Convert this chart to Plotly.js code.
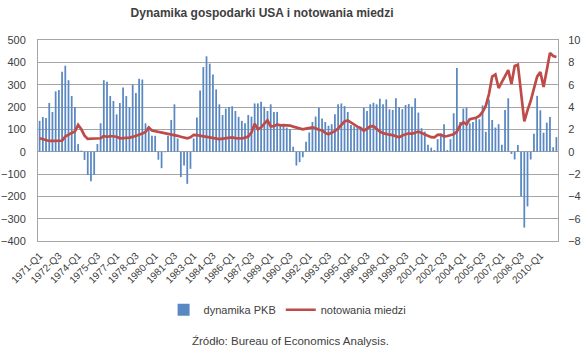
<!DOCTYPE html>
<html>
<head>
<meta charset="utf-8">
<script src="https://cdn.plot.ly/plotly-3.0.1.min.js"></script>
<style>html,body{margin:0;padding:0;background:#fff;}#chart{width:585px;height:353px;}</style>
</head>
<body>
<div id="chart"></div>
<script>
// Quarters 1971-Q1 .. 2011-Q2
var firstYear = 1971, lastYear = 2011, lastQuarter = 2;
var quarters = [];
for (var y = firstYear; y <= lastYear; y++) {
  for (var q = 1; q <= 4; q++) {
    if (y === lastYear && q > lastQuarter) break;
    quarters.push(y + '-Q' + q);
  }
}
// Tick labels shown on the category axis (every 6th quarter)
var tickLabels = quarters.filter(function (c, i) { return i % 6 === 0; });

// dynamika PKB (US real GDP growth, %) - right axis
var gdpGrowth = [
  2.76, 3.10, 3.02, 4.36, 3.56, 5.40, 5.52, 7.16, 7.70, 6.40,
  4.98, 4.00, 0.68, 0.10, -0.74, -2.08, -2.66, -2.08, 0.68, 2.54,
  6.40, 6.26, 4.98, 4.54, 3.34, 4.36, 5.74, 4.98, 4.00, 6.00,
  5.26, 6.52, 6.46, 2.54, 2.30, 1.42, 1.42, -0.72, -1.48, -0.05,
  1.42, 2.84, 4.24, 1.18, -2.28, -1.24, -2.88, -1.54, 1.18, 3.06,
  5.48, 7.58, 8.54, 7.88, 6.90, 5.58, 4.24, 3.28, 3.86, 4.00,
  4.06, 3.64, 3.12, 2.76, 2.54, 3.28, 3.14, 4.32, 4.32, 4.48,
  4.02, 3.64, 4.24, 3.56, 3.56, 2.46, 2.32, 2.16, 2.00, 0.44,
  -1.24, -0.94, -0.50, 0.88, 1.72, 2.66, 3.14, 3.94, 2.96, 2.66,
  2.32, 2.46, 3.34, 4.24, 4.32, 4.08, 3.56, 2.38, 2.26, 2.16,
  2.16, 3.94, 3.64, 4.24, 4.38, 4.24, 4.74, 4.24, 4.68, 3.80,
  3.74, 4.78, 4.00, 3.80, 4.18, 4.26, 4.02, 4.78, 3.50, 2.10,
  1.80, 0.62, 0.36, 0.14, 1.12, 1.42, 2.46, 0.14, 1.12, 3.44,
  7.50, 2.66, 3.86, 3.94, 2.54, 2.66, 3.06, 2.90, 4.14, 1.78,
  4.68, 2.84, 2.16, 2.46, 0.62, 3.74, 4.78, -0.20, -0.70, 0.60,
  -4.00, -6.80, -4.90, -0.70, 1.60, 5.00, 3.70, 1.70, 2.60, 3.10,
  0.40, 1.30
];

// notowania miedzi (copper price, US cents/lb) - left axis
var copperPrice = [
  60, 55, 50, 48, 48, 49, 48, 49, 68, 78,
  84, 90, 120, 100, 72, 57, 57, 57, 57, 60,
  70, 66, 70, 68, 67, 60, 60, 60, 63, 66,
  70, 74, 81, 88, 108, 95, 92, 90, 88, 86,
  82, 78, 75, 71, 67, 64, 60, 64, 75, 74,
  71, 68, 66, 62, 59, 57, 56, 58, 59, 62,
  64, 61, 59, 59, 63, 68, 85, 125, 100, 108,
  125, 140, 113, 114, 122, 118, 119, 118, 117, 112,
  108, 102, 100, 103, 106, 109, 105, 98, 95, 84,
  78, 84, 92, 104, 118, 135, 140, 130, 120, 112,
  106, 93, 103, 113, 114, 100, 90, 83, 78, 76,
  74, 68, 64, 72, 78, 82, 80, 84, 90, 84,
  78, 70, 65, 64, 75, 76, 68, 70, 73, 78,
  90, 118, 132, 122, 145, 148, 152, 160, 178, 205,
  258, 336, 346, 285, 310, 338, 365, 303, 384, 390,
  270, 136, 185, 228, 282, 336, 357, 290, 365, 442,
  428, 424
];

var seriesNames = ['dynamika PKB', 'notowania miedzi'];
var titleText = 'Dynamika gospodarki USA i notowania miedzi';
var sourceText = 'Źródło: Bureau of Economics Analysis.';

var textColor = '#404040';
var gridColor = '#A6A6A6';

var traces = [
  {
    type: 'bar',
    name: seriesNames[0],
    x: quarters,
    y: gdpGrowth,
    yaxis: 'y',
    marker: { color: '#5A88C2', line: { width: 0 } }
  },
  {
    type: 'scatter',
    mode: 'lines',
    name: seriesNames[1],
    x: quarters,
    y: copperPrice,
    yaxis: 'y2',
    line: { color: '#BE4B48', width: 2.7 }
  }
];

var layout = {
  width: 585,
  height: 353,
  margin: { l: 38, r: 27, t: 40, b: 112 },
  paper_bgcolor: '#ffffff',
  plot_bgcolor: '#ffffff',
  font: { family: 'Liberation Sans, Arial, sans-serif', color: textColor, size: 11 },
  title: {
    text: '<b>' + titleText + '</b>',
    font: { family: 'Liberation Sans, Arial, sans-serif', size: 12, color: textColor },
    x: 0.448, xref: 'container', xanchor: 'center',
    y: 0.963, yref: 'container', yanchor: 'middle'
  },
  bargap: 0.45,
  showlegend: true,
  legend: {
    orientation: 'h',
    x: 0.48, xanchor: 'center',
    y: -0.27, yanchor: 'top',
    font: { size: 11, color: textColor },
    traceorder: 'normal'
  },
  xaxis: {
    type: 'category',
    range: [-0.5, quarters.length - 0.5],
    tickmode: 'array',
    tickvals: tickLabels,
    ticktext: tickLabels,
    tickangle: -45,
    tickfont: { size: 10, color: textColor },
    ticks: 'outside', ticklen: 4, tickcolor: 'rgba(0,0,0,0)',
    showgrid: false,
    zeroline: false,
    showline: true, mirror: true, linecolor: gridColor, linewidth: 1
  },
  yaxis: {
    side: 'right',
    range: [-8, 10],
    dtick: 2, tick0: 0,
    tickfont: { size: 11, color: textColor },
    ticks: 'outside', ticklen: 7, tickcolor: 'rgba(0,0,0,0)',
    showgrid: true, gridcolor: gridColor, gridwidth: 1,
    zeroline: false,
    showline: true, linecolor: gridColor, linewidth: 1
  },
  yaxis2: {
    overlaying: 'y',
    side: 'left',
    range: [-400, 500],
    dtick: 100, tick0: 0,
    tickfont: { size: 11, color: textColor },
    ticks: 'outside', ticklen: 9, tickcolor: 'rgba(0,0,0,0)',
    showgrid: false,
    zeroline: false,
    showline: true, linecolor: gridColor, linewidth: 1
  },
  annotations: [
    {
      text: sourceText,
      xref: 'paper', yref: 'paper',
      x: 0.4865, y: -0.4975,
      xanchor: 'center', yanchor: 'middle',
      showarrow: false,
      font: { size: 11.5, color: textColor }
    }
  ]
};

Plotly.newPlot('chart', traces, layout, { staticPlot: true, displayModeBar: false });
</script>
</body>
</html>
